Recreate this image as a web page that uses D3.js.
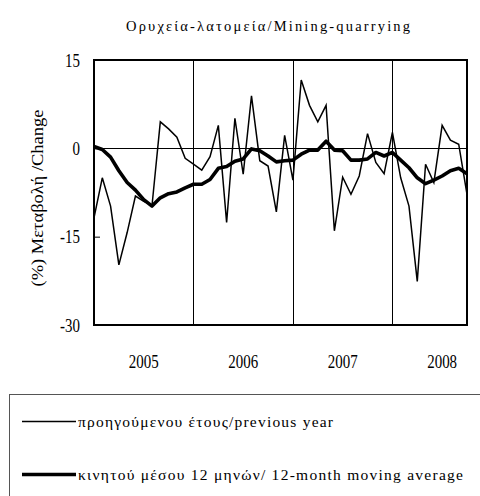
<!DOCTYPE html>
<html>
<head>
<meta charset="utf-8">
<script src="https://cdn.jsdelivr.net/npm/d3@7"></script>
<style>
  body { margin: 0; background: #fff; }
  svg { display: block; }
  text { font-family: "Liberation Serif", "DejaVu Serif", "Times New Roman", serif; fill: #000; }
</style>
</head>
<body>
<svg id="chart" width="480" height="496"></svg>
<script>
// monthly data, Jan 2005 .. Oct 2008
const years = ["2005", "2006", "2007", "2008"];
const yTicks = [15, 0, -15, -30];

// % change over same month of previous year
const yoy = [
  -11.8, -5.0, -9.8, -19.8, -14.3, -8.1, -9.0, -9.7, 4.5, 3.3, 1.9, -1.7,
  -2.7, -3.7, -1.4, 3.9, -12.6, 5.1, -4.4, 8.9, -2.1, -3.0, -10.8, 2.2,
  -5.4, 11.6, 7.3, 4.5, 7.3, -14.0, -4.9, -7.8, -4.7, 2.5, -2.4, -4.3,
  2.7, -5.0, -9.8, -22.6, -2.7, -5.8, 3.9, 1.4, 0.7, -7.8
];

// 12-month moving average
const movAvg = [
  0.3, -0.2, -1.5, -3.8, -5.8, -7.1, -8.7, -9.8, -8.4, -7.7, -7.4, -6.7,
  -6.1, -6.1, -5.3, -3.4, -3.1, -2.2, -1.8, -0.1, -0.4, -1.3, -2.3, -2.1,
  -2.0, -1.0, -0.3, -0.3, 1.2, -0.3, -0.4, -2.0, -2.0, -1.8, -0.7, -1.3,
  -0.7, -2.0, -3.3, -5.0, -6.0, -5.4, -4.7, -3.8, -3.4, -4.3
];

const legendLabels = [
  "προηγούμενου έτους/previous year",
  "κινητού μέσου 12 μηνών/ 12-month moving average"
];

const svg = d3.select("#chart");

const plotLeft = 94, plotRight = 467, plotTop = 60, plotBottom = 325;

const x = d3.scaleLinear()
  .domain([0, yoy.length - 1])
  .range([plotLeft, plotRight]);

const y = d3.scaleLinear()
  .domain([-30, 15])
  .range([plotBottom, plotTop]);

// title
svg.append("text")
  .attr("x", 126)
  .attr("y", 31)
  .attr("font-size", "14.5px")
  .attr("textLength", 284)
  .attr("lengthAdjust", "spacing")
  .text("Ορυχεία-λατομεία/Mining-quarrying");

// year separators (at each January)
svg.append("g")
  .selectAll("line")
  .data(years.slice(1))
  .join("line")
  .attr("x1", (d, i) => Math.round(x((i + 1) * 12)) + 0.5)
  .attr("x2", (d, i) => Math.round(x((i + 1) * 12)) + 0.5)
  .attr("y1", plotTop)
  .attr("y2", plotBottom)
  .attr("stroke", "#000")
  .attr("stroke-width", 1);

// zero line
svg.append("line")
  .attr("x1", plotLeft).attr("x2", plotRight)
  .attr("y1", Math.round(y(0)) + 0.5).attr("y2", Math.round(y(0)) + 0.5)
  .attr("stroke", "#000")
  .attr("stroke-width", 1);

// y axis ticks (inside) + labels
const y_axis = d3.axisLeft(y).tickValues(yTicks).tickSize(-6).tickFormat("");
svg.append("g")
  .attr("transform", `translate(${plotLeft},0)`)
  .call(y_axis)
  .call(g => g.select(".domain").remove())
  .call(g => g.selectAll("line").attr("stroke", "#000"));

svg.append("g")
  .selectAll("text")
  .data(yTicks)
  .join("text")
  .attr("transform", d => `translate(80, ${y(d) + 6.5}) scale(0.83,1)`)
  .attr("text-anchor", "end")
  .attr("font-size", "18px")
  .text(d => d);

// year labels
svg.append("g")
  .selectAll("text")
  .data(years)
  .join("text")
  .attr("transform", (d, i) => `translate(${x(i * 12 + 6)}, 368) scale(0.83,1)`)
  .attr("text-anchor", "middle")
  .attr("font-size", "18px")
  .text(d => d);

// y axis title
svg.append("text")
  .attr("transform", "translate(43, 198) rotate(-90)")
  .attr("text-anchor", "middle")
  .attr("font-size", "17px")
  .attr("textLength", 177)
  .attr("lengthAdjust", "spacingAndGlyphs")
  .text("(%) Μεταβολή /Change");

// series
const line = d3.line()
  .x((d, i) => x(i))
  .y(d => y(d));

svg.append("path")
  .datum(yoy)
  .attr("fill", "none")
  .attr("stroke", "#000")
  .attr("stroke-width", 1.5)
  .attr("stroke-linejoin", "miter")
  .attr("d", line);

svg.append("path")
  .datum(movAvg)
  .attr("fill", "none")
  .attr("stroke", "#000")
  .attr("stroke-width", 3.6)
  .attr("stroke-linejoin", "round")
  .attr("d", line);

// plot frame
svg.append("rect")
  .attr("x", plotLeft)
  .attr("y", plotTop)
  .attr("width", plotRight - plotLeft)
  .attr("height", plotBottom - plotTop)
  .attr("fill", "none")
  .attr("stroke", "#000")
  .attr("stroke-width", 2);

// legend box
const legend = svg.append("g");
legend.append("rect")
  .attr("x", 9.5)
  .attr("y", 394.5)
  .attr("width", 480)
  .attr("height", 120)
  .attr("fill", "none")
  .attr("stroke", "#555")
  .attr("stroke-width", 1);

const legendWidths = [1.3, 3.6];
const legendLen = [255, 385];
const items = legend.selectAll(".item")
  .data(legendLabels)
  .join("g")
  .attr("transform", (d, i) => `translate(0, ${i === 0 ? 421.5 : 474.5})`);

items.append("line")
  .attr("x1", 22).attr("x2", 76)
  .attr("stroke", "#000")
  .attr("stroke-width", (d, i) => legendWidths[i]);

items.append("text")
  .attr("x", 78)
  .attr("y", 5.5)
  .attr("font-size", "15.5px")
  .attr("textLength", (d, i) => legendLen[i])
  .attr("lengthAdjust", "spacing")
  .text(d => d);
</script>
</body>
</html>
